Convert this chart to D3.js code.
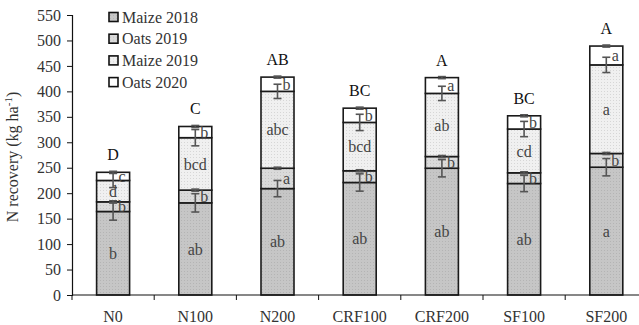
<!DOCTYPE html>
<html>
<head>
<meta charset="utf-8">
<script src="https://cdn.jsdelivr.net/npm/d3@7"></script>
<style>
  body { margin: 0; background: #fff; }
  svg { display: block; font-family: "Liberation Serif", "DejaVu Serif", serif; }
</style>
</head>
<body>
<div id="container"></div>
<script>
// data
const categories = ["N0", "N100", "N200", "CRF100", "CRF200", "SF100", "SF200"];
const seriesNames = ["Maize 2018", "Oats 2019", "Maize 2019", "Oats 2020"];

const maize2018 = [164, 181, 209, 221, 249, 219, 251];
const oats2019 = [19, 25, 40, 23, 23, 21, 27];
const maize2019 = [42, 103, 151, 95, 124, 86, 174];
const oats2020 = [16, 22, 28, 28, 31, 26, 37];

const maize2018Err = [17, 18, 16, 17, 17, 16, 17];
const oats2019Err = [2, 2, 2, 2, 2, 2, 2];
const maize2019Err = [14, 16, 14, 16, 14, 15, 15];
const oats2020Err = [2, 2, 2, 2, 2, 2, 2];

const maize2018Letters = ["b", "ab", "ab", "ab", "ab", "ab", "a"];
const oats2019Letters = ["b", "b", "a", "b", "b", "b", "b"];
const maize2019Letters = ["d", "bcd", "abc", "bcd", "ab", "cd", "a"];
const oats2020Letters = ["c", "b", "b", "b", "a", "b", "a"];
const totalLetters = ["D", "C", "AB", "BC", "A", "BC", "A"];

const yTicks = d3.range(0, 551, 50);

const width = 639;
const height = 325;
const left = 72, step = 82.2;
const barW = 33;

const svg = d3.create("svg")
    .attr("width", width)
    .attr("height", height);

// fill textures (grey halftone look)
const defs = svg.append("defs");
const fills = [
    { id: "p0", base: "#c6c6c6", dot: "#b4b4b4" },
    { id: "p1", base: "#dadada", dot: "#c4c4c4" },
    { id: "p2", base: "#f0f0f0", dot: "#d6d6d6" },
    { id: "p3", base: "#ffffff", dot: "#ffffff" }
];
fills.forEach(f => {
    const p = defs.append("pattern")
        .attr("id", f.id)
        .attr("patternUnits", "userSpaceOnUse")
        .attr("width", 3).attr("height", 3);
    p.append("rect").attr("width", 3).attr("height", 3).attr("fill", f.base);
    p.append("rect").attr("x", 1).attr("y", 1).attr("width", 1).attr("height", 1).attr("fill", f.dot);
});

const x = d3.scaleBand()
    .domain(categories)
    .range([left, left + step * categories.length])
    .padding(0);

const y = d3.scaleLinear()
    .domain([0, 550])
    .range([295, 15]);

// stack the four seasons
const rows = categories.map((c, i) => ({
    cat: c,
    "Maize 2018": maize2018[i],
    "Oats 2019": oats2019[i],
    "Maize 2019": maize2019[i],
    "Oats 2020": oats2020[i]
}));
const stacked = d3.stack().keys(seriesNames)(rows);

const errs = [maize2018Err, oats2019Err, maize2019Err, oats2020Err];
const letters = [maize2018Letters, oats2019Letters, maize2019Letters, oats2020Letters];

const layer = svg.append("g")
    .selectAll("g")
    .data(stacked)
    .join("g")
    .attr("fill", (d, i) => `url(#p${i})`);

layer.selectAll("rect")
    .data(d => d)
    .join("rect")
    .attr("x", d => x(d.data.cat) + (x.bandwidth() - barW) / 2)
    .attr("y", d => y(d[1]))
    .attr("width", barW)
    .attr("height", d => y(d[0]) - y(d[1]))
    .attr("stroke", "#1a1a1a")
    .attr("stroke-width", 1.6);

// error bars at the top of every segment
const eb = svg.append("g")
    .attr("stroke", "#555")
    .attr("stroke-width", 1.6);

stacked.forEach((s, si) => {
    s.forEach((d, i) => {
        const cx = x(d.data.cat) + x.bandwidth() / 2;
        const e = errs[si][i];
        const y1 = y(d[1] + e), y2 = y(d[1] - e);
        eb.append("line").attr("x1", cx).attr("x2", cx).attr("y1", y1).attr("y2", y2);
        eb.append("line").attr("x1", cx - 4).attr("x2", cx + 4).attr("y1", y1).attr("y2", y1);
        eb.append("line").attr("x1", cx - 4).attr("x2", cx + 4).attr("y1", y2).attr("y2", y2);
    });
});

// significance letters inside segments
const lt = svg.append("g")
    .attr("fill", "#444")
    .attr("font-size", 16)
    .attr("text-anchor", "middle");

stacked.forEach((s, si) => {
    s.forEach((d, i) => {
        const cx = x(d.data.cat) + x.bandwidth() / 2;
        const off = (si === 1 || si === 3) ? 9 : 0;
        lt.append("text")
            .attr("x", cx + off)
            .attr("y", (y(d[0]) + y(d[1])) / 2)
            .attr("dy", "0.35em")
            .text(letters[si][i]);
    });
});

// letters over the totals
const topLayer = stacked[stacked.length - 1];
svg.append("g")
    .attr("font-size", 16)
    .attr("fill", "#111")
    .attr("text-anchor", "middle")
    .selectAll("text")
    .data(topLayer)
    .join("text")
    .attr("x", d => x(d.data.cat) + x.bandwidth() / 2)
    .attr("y", d => y(d[1]) - 12)
    .text((d, i) => totalLetters[i]);

// y axis
const yAxis = svg.append("g")
    .attr("transform", `translate(${left},0)`)
    .call(d3.axisLeft(y).tickValues(yTicks).tickSize(5).tickPadding(6));
yAxis.select(".domain").attr("stroke", "#111").attr("stroke-width", 1.2);
yAxis.selectAll(".tick line").attr("stroke", "#111");
yAxis.selectAll("text")
    .attr("font-family", "Liberation Serif, serif")
    .attr("font-size", 16)
    .attr("fill", "#333");

// x axis with ticks between categories
const xAxis = svg.append("g")
    .attr("transform", `translate(0,${y(0)})`)
    .call(d3.axisBottom(x).tickSize(0).tickPadding(16));
xAxis.select(".domain").remove();
xAxis.selectAll("text")
    .attr("font-family", "Liberation Serif, serif")
    .attr("font-size", 16)
    .attr("fill", "#333");
xAxis.append("line")
    .attr("x1", left).attr("x2", width)
    .attr("stroke", "#111").attr("stroke-width", 1.2);
xAxis.selectAll(".sep")
    .data(categories.map(c => x(c)))
    .join("line")
    .attr("class", "sep")
    .attr("x1", d => d).attr("x2", d => d)
    .attr("y1", 0).attr("y2", 5)
    .attr("stroke", "#111");

// y title
const yt = svg.append("text")
    .attr("transform", "translate(18,157) rotate(-90)")
    .attr("text-anchor", "middle")
    .attr("font-size", 16)
    .attr("fill", "#333");
yt.append("tspan").text("N recovery (kg ha");
yt.append("tspan").attr("font-size", 11).attr("dy", -6).text("-1");
yt.append("tspan").attr("dy", 6).text(")");

// legend
const legend = svg.append("g")
    .selectAll("g")
    .data(seriesNames)
    .join("g")
    .attr("transform", (d, i) => `translate(109,${17 + i * 21.7})`);
legend.append("rect")
    .attr("x", 0).attr("y", -4.5)
    .attr("width", 9).attr("height", 9)
    .attr("fill", (d, i) => `url(#p${i})`)
    .attr("stroke", "#111")
    .attr("stroke-width", 1.6);
legend.append("text")
    .attr("x", 13)
    .attr("dy", "0.35em")
    .attr("font-size", 16)
    .attr("fill", "#333")
    .text(d => d);

document.getElementById("container").appendChild(svg.node());
</script>
</body>
</html>
